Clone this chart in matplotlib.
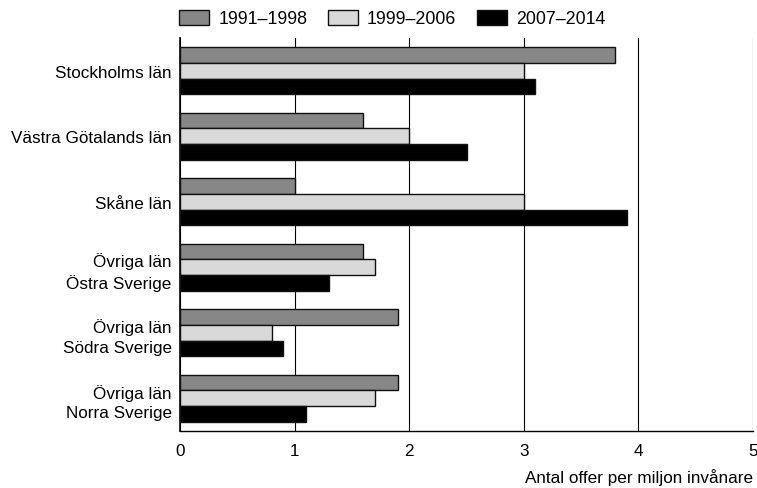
import matplotlib
matplotlib.use("Agg")
import matplotlib.pyplot as plt
import numpy as np

plt.rcParams['font.family'] = ['Liberation Sans', 'DejaVu Sans']

categories = ["Stockholms län", "Västra Götalands län", "Skåne län",
              "Övriga län\nÖstra Sverige", "Övriga län\nSödra Sverige", "Övriga län\nNorra Sverige"]
series_names = ["1991–1998", "1999–2006", "2007–2014"]
v1991 = [3.8, 1.6, 1.0, 1.6, 1.9, 1.9]
v1999 = [3.0, 2.0, 3.0, 1.7, 0.8, 1.7]
v2007 = [3.1, 2.5, 3.9, 1.3, 0.9, 1.1]
colors = ["#878787", "#d9d9d9", "#000000"]

fig = plt.figure(figsize=(7.57, 4.89), dpi=100)
ax = fig.add_axes([0.2378, 0.1166, 0.7569, 0.8034])

y = np.arange(len(categories))
h = 0.24
for i, (vals, name, c) in enumerate(zip([v1991, v1999, v2007], series_names, colors)):
    ax.barh(y + (i - 1) * h, vals, height=h, color=c, edgecolor="#111111",
            linewidth=1.0, label=name, zorder=3)

ax.set_ylim(len(categories) - 0.5, -0.5)
ax.set_xlim(0, 5)
ax.set_xticks([0, 1, 2, 3, 4, 5])
ax.set_yticks(y)
ax.set_yticklabels(categories, fontsize=12.3, linespacing=1.38)
ax.tick_params(axis='both', length=0, labelsize=12.3)
ax.tick_params(axis='x', pad=9)
ax.tick_params(axis='y', pad=6)
ax.grid(axis='x', color='black', linewidth=0.8, zorder=0)
for s in ['top', 'right']:
    ax.spines[s].set_visible(False)
ax.spines['left'].set_linewidth(1.2)
ax.spines['bottom'].set_linewidth(1.0)

ax.set_xlabel("Antal offer per miljon invånare", fontsize=12.3, loc='right', labelpad=7)

fig.legend(loc='upper left', bbox_to_anchor=(0.222, 1.0), ncol=3, frameon=False,
           fontsize=12.8, handlelength=1.72, handleheight=0.92, columnspacing=1.15,
           handletextpad=0.5, borderaxespad=0.2)

fig.savefig("out.png", dpi=100)
